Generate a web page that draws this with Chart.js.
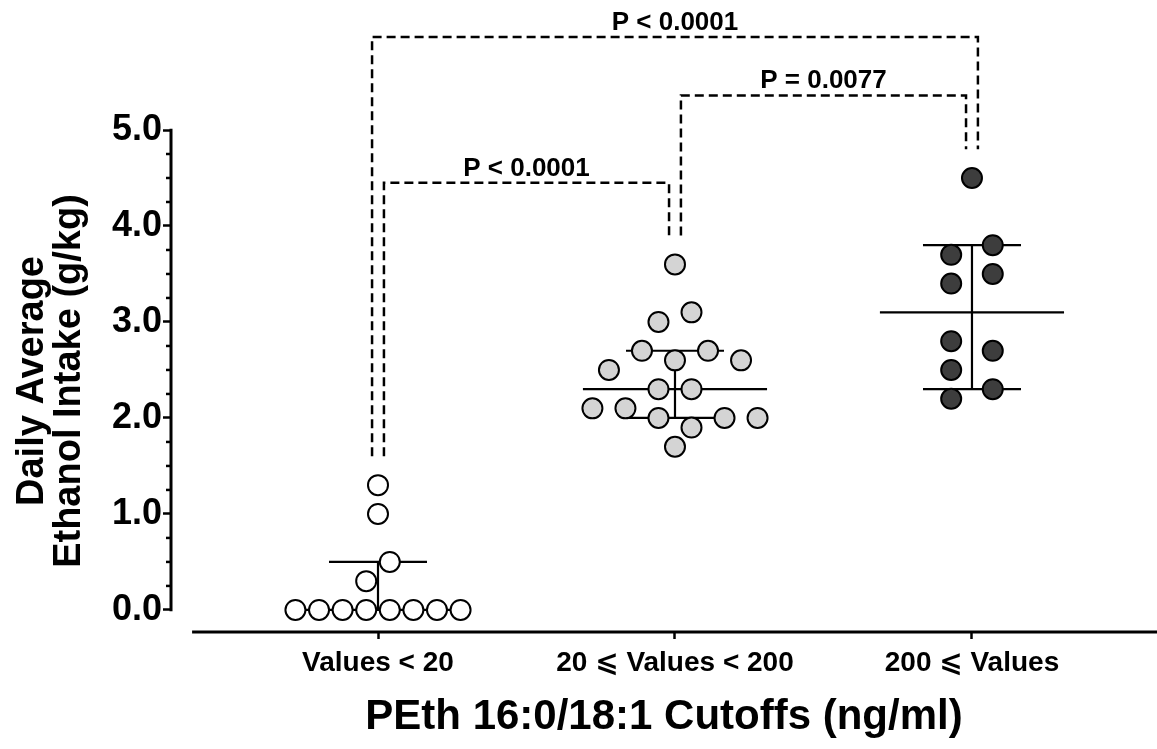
<!DOCTYPE html>
<html>
<head>
<meta charset="utf-8">
<script src="https://cdn.jsdelivr.net/npm/chart.js@4.4.1/dist/chart.umd.min.js"></script>
<style>
  body { margin: 0; background: #fff; }
  canvas { display: block; }
</style>
</head>
<body>
<canvas id="pethChart" width="1157" height="749"></canvas>
<script>
const categories = ['Values < 20', '20 \u2A7D Values < 200', '200 \u2A7D Values'];
const lowValues = [1.3, 1.0, 0.5, 0.3, 0, 0, 0, 0, 0, 0, 0, 0];
const midValues = [3.6, 3.0, 3.1, 2.5, 2.7, 2.6, 2.7, 2.6, 2.3, 2.3, 2.1, 2.1, 2.0, 1.9, 2.0, 2.0, 1.7];
const highValues = [4.5, 3.7, 3.8, 3.4, 3.5, 2.8, 2.7, 2.5, 2.2, 2.3];
const medians = [0, 2.3, 3.1];
const lowerQuartiles = [0, 2.0, 2.3];
const upperQuartiles = [0.5, 2.7, 3.8];
const yTicks = [0, 1, 2, 3, 4, 5];
const bracketFrom = [1, 2, 1];
const bracketTo = [2, 3, 3];
const bracketLevel = [4.45, 5.36, 5.97];
const bracketText = ['P < 0.0001', 'P = 0.0077', 'P < 0.0001'];

const groups = [lowValues, midValues, highValues];
const fills = ['#ffffff', '#d4d4d4', '#3d3d3d'];
const FONT = "'Liberation Sans', Arial, 'DejaVu Sans', sans-serif";

// GraphPad-like scatter: points with close values share a row and spread out evenly
function swarmOffsets(values, width, cap) {
    const order = values.map((v, i) => i).sort((a, b) => values[b] - values[a]);
    const rows = [];
    order.forEach((idx, k) => {
        if (k > 0 && values[order[k - 1]] - values[idx] < 0.15) rows[rows.length - 1].push(idx);
        else rows.push([idx]);
    });
    const nmax = Math.max(...rows.map(r => r.length));
    const step = nmax > 1 ? Math.min(width / (nmax - 1), cap) : cap;
    const offsets = new Array(values.length).fill(0);
    for (let r = 0; r < rows.length; r++) {
        const row = rows[r].slice().sort((a, b) => a - b);
        const next = rows[r + 1];
        if (row.length === 1 && next && next.length === 1 && values[row[0]] - values[next[0]] < 0.25) {
            offsets[row[0]] = 0.5 * step;
            offsets[next[0]] = -0.5 * step;
            r++;
            continue;
        }
        // a lone point sitting between two pairs goes to the left slot
        const prev = rows[r - 1];
        if (row.length === 1 && r > 0 && prev.length === 2 && next && next.length === 2) {
            offsets[row[0]] = -0.5 * step;
            continue;
        }
        row.forEach((idx, p) => { offsets[idx] = (p - (row.length - 1) / 2) * step; });
    }
    return offsets;
}

const pointSets = groups.map((vals, g) => {
    const off = swarmOffsets(vals, 0.556, 0.14);
    return {
        type: 'scatter',
        data: vals.map((v, i) => ({x: g + 1 + off[i], y: v})),
        backgroundColor: fills[g],
        borderColor: '#000',
        borderWidth: 2,
        pointRadius: 10,
        pointHoverRadius: 10,
        order: 0
    };
});

const summaryPts = [];
medians.forEach((m, i) => {
    const c = i + 1;
    summaryPts.push({x: c - 0.31, y: m}, {x: c + 0.31, y: m}, {x: c, y: null});
    summaryPts.push({x: c - 0.165, y: upperQuartiles[i]}, {x: c + 0.165, y: upperQuartiles[i]}, {x: c, y: null});
    summaryPts.push({x: c - 0.165, y: lowerQuartiles[i]}, {x: c + 0.165, y: lowerQuartiles[i]}, {x: c, y: null});
    summaryPts.push({x: c, y: lowerQuartiles[i]}, {x: c, y: upperQuartiles[i]}, {x: c, y: null});
});

const axesPlugin = {
    id: 'axesAndBrackets',
    afterDraw(chart) {
        const {ctx, chartArea, scales: {x, y}} = chart;
        ctx.save();
        ctx.strokeStyle = '#000';
        ctx.fillStyle = '#000';

        // y axis line, only over the tick range
        ctx.lineWidth = 3;
        ctx.beginPath();
        ctx.moveTo(chartArea.left, y.getPixelForValue(yTicks[0]) + 1.25);
        ctx.lineTo(chartArea.left, y.getPixelForValue(yTicks[yTicks.length - 1]) - 1.25);
        ctx.stroke();

        // minor ticks
        ctx.lineWidth = 2.5;
        for (let i = 1; i < 20; i++) {
            if (i % 4 === 0) continue;
            const py = y.getPixelForValue(i / 4);
            ctx.beginPath();
            ctx.moveTo(chartArea.left - 5, py);
            ctx.lineTo(chartArea.left, py);
            ctx.stroke();
        }

        // x axis line, detached from the y axis
        ctx.lineWidth = 3;
        ctx.beginPath();
        ctx.moveTo(x.getPixelForValue(0.374), chartArea.bottom);
        ctx.lineTo(chartArea.right, chartArea.bottom);
        ctx.stroke();

        // significance brackets
        const d = 0.02;
        ctx.lineWidth = 2.5;
        ctx.setLineDash([9, 5]);
        ctx.font = 'bold 26px ' + FONT;
        ctx.textAlign = 'center';
        ctx.textBaseline = 'alphabetic';
        bracketFrom.forEach((a, b) => {
            const t = bracketTo[b];
            const lvl = bracketLevel[b];
            const nestL = bracketFrom.some((o, k) => k !== b && o === a && bracketLevel[k] < lvl);
            const nestR = bracketTo.some((o, k) => k !== b && o === t && bracketLevel[k] < lvl);
            const xl = x.getPixelForValue(a + (nestL ? -d : d));
            const xr = x.getPixelForValue(t + (nestR ? d : -d));
            const yl = y.getPixelForValue(Math.max(...groups[a - 1]) + 0.3);
            const yr = y.getPixelForValue(Math.max(...groups[t - 1]) + 0.3);
            const yt = y.getPixelForValue(lvl);
            ctx.beginPath();
            ctx.moveTo(xl, yl);
            ctx.lineTo(xl, yt);
            ctx.lineTo(xr, yt);
            ctx.lineTo(xr, yr);
            ctx.stroke();
            ctx.fillText(bracketText[b], (xl + xr) / 2, yt - 7);
        });
        ctx.restore();
    }
};

new Chart(document.getElementById('pethChart').getContext('2d'), {
    type: 'scatter',
    data: {
        datasets: [...pointSets, {
            type: 'line',
            data: summaryPts,
            borderColor: '#000',
            borderWidth: 2.2,
            pointRadius: 0,
            spanGaps: false,
            fill: false,
            order: 1
        }]
    },
    options: {
        responsive: false,
        animation: false,
        devicePixelRatio: 1,
        layout: {autoPadding: false, padding: {top: 130, left: 0, right: 0, bottom: 0}},
        plugins: {legend: {display: false}, tooltip: {enabled: false}},
        scales: {
            x: {
                type: 'linear',
                min: 0.303,
                max: 3.623,
                afterBuildTicks: s => { s.ticks = categories.map((c, i) => ({value: i + 1})); },
                afterFit: s => { s.height = 117; },
                border: {display: false},
                grid: {drawOnChartArea: false, tickLength: 7, tickWidth: 2.5, tickColor: '#000'},
                ticks: {
                    color: '#000', padding: 7, maxRotation: 0, autoSkip: false,
                    font: {family: FONT, size: 28, weight: 'bold'},
                    callback: (v, i) => categories[i]
                },
                title: {
                    display: true,
                    text: 'PEth 16:0/18:1 Cutoffs (ng/ml)',
                    color: '#000',
                    padding: {top: 0, bottom: 6},
                    font: {family: FONT, size: 42, weight: 'bold'}
                }
            },
            y: {
                min: -0.23,
                max: 5,
                afterBuildTicks: s => { s.ticks = yTicks.map(v => ({value: v})); },
                afterFit: s => { s.width = 171; },
                border: {display: false},
                grid: {drawOnChartArea: false, tickLength: 8, tickWidth: 2.5, tickColor: '#000'},
                ticks: {
                    color: '#000', padding: 1,
                    font: {family: FONT, size: 36, weight: 'bold'},
                    callback: v => v.toFixed(1)
                },
                title: {
                    display: true,
                    text: ['Daily Average', 'Ethanol Intake (g/kg)'],
                    color: '#000',
                    padding: {top: 14, bottom: 0},
                    font: {family: FONT, size: 38, weight: 'bold', lineHeight: 0.98}
                }
            }
        }
    },
    plugins: [axesPlugin]
});
</script>
</body>
</html>
